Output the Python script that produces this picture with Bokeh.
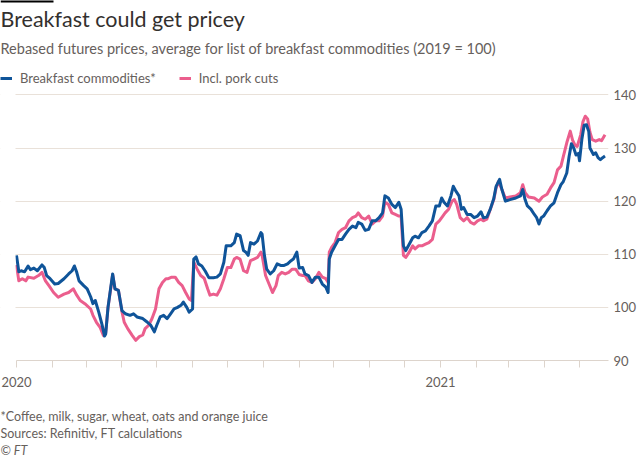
from bokeh.plotting import figure
from bokeh.models import Range1d, FixedTicker, Legend, LegendItem, Label, Title, BoxAnnotation
from bokeh.embed import file_html
from bokeh.resources import INLINE

# ---- data (days since 2020-01-01, rebased index 2019 = 100) ----
blue_days = [0, 2, 4, 7, 10, 12, 15, 18, 22, 24, 26, 29, 33, 36, 41, 45, 48, 50, 52, 54,
             58, 61, 64, 66, 68, 71, 74, 76, 77, 79, 82, 83, 85, 88, 91, 94, 98, 101, 104, 109,
             113, 116, 119, 121, 124, 127, 130, 133, 136, 139, 142, 144, 147, 149, 152, 153, 155, 157, 160, 163,
             166, 170, 173, 176, 179, 181, 185, 188, 190, 193, 196, 198, 200, 202, 205, 208, 211, 212, 214, 216,
             219, 222, 225, 228, 231, 234, 237, 239, 242, 244, 247, 249, 252, 255, 258, 261, 264, 267, 269, 270,
             272, 275, 278, 281, 284, 287, 290, 293, 295, 298, 301, 304, 307, 310, 313, 316, 318, 321, 324, 327,
             330, 332, 334, 336, 339, 342, 344, 347, 350, 353, 356, 359, 362, 365, 367, 369, 372, 375, 377, 379,
             382, 384, 386, 389, 392, 395, 398, 401, 403, 406, 409, 412, 414, 417, 419, 422, 426, 431, 435, 437,
             439, 441, 444, 447, 449, 451, 453, 455, 458, 461, 464, 467, 470, 472, 475, 477, 479, 481, 483, 485,
             486, 488, 490, 492, 494, 495, 498, 500, 502, 504, 506, 508]
blue_vals = [109.8, 106.7, 106.9, 106.7, 107.8, 107.1, 107.4, 106.9, 108.0, 107.5, 106.0, 105.4, 104.4, 104.5, 105.4, 106.3, 106.9, 107.8, 106.6, 105.0,
             104.1, 103.5, 102.0, 100.7, 101.3, 99.1, 96.6, 94.6, 95.0, 100.0, 104.8, 106.3, 103.5, 103.2, 99.4, 98.8, 98.5, 98.8, 98.2, 97.9,
             97.2, 96.6, 95.4, 96.6, 98.2, 98.5, 97.9, 98.8, 99.7, 100.0, 100.4, 101.0, 100.0, 99.1, 99.7, 109.1, 109.5, 108.2, 107.8, 106.8,
             105.6, 105.6, 105.7, 106.3, 108.5, 111.6, 111.6, 112.2, 113.8, 113.5, 110.7, 110.4, 109.8, 112.2, 111.9, 112.5, 114.1, 113.8, 109.8, 107.2,
             106.3, 106.9, 108.2, 107.9, 107.9, 108.2, 108.8, 109.1, 110.4, 107.4, 107.5, 106.3, 106.0, 104.7, 105.7, 105.7, 104.4, 103.8, 102.8, 109.1,
             110.4, 111.6, 112.8, 112.8, 113.8, 114.7, 115.3, 115.0, 116.0, 115.7, 114.5, 114.7, 116.3, 116.3, 116.9, 117.8, 121.0, 120.6, 119.4, 118.8,
             119.8, 118.5, 111.6, 110.7, 111.9, 113.1, 113.4, 113.1, 114.1, 114.4, 115.3, 116.3, 119.1, 119.1, 120.6, 119.8, 119.1, 121.0, 122.8, 122.0,
             121.0, 118.5, 118.8, 117.5, 117.5, 116.9, 117.2, 118.0, 116.9, 117.0, 118.5, 120.5, 122.8, 124.1, 122.2, 120.0, 120.3, 120.6, 121.0, 122.2,
             120.3, 119.1, 118.5, 117.5, 116.9, 115.7, 116.9, 117.2, 118.2, 119.1, 119.7, 121.6, 123.1, 123.7, 125.3, 128.4, 130.8, 130.0, 128.7, 129.0,
             127.6, 131.6, 134.3, 134.4, 133.1, 130.0, 128.8, 129.1, 128.2, 127.8, 128.2, 128.5]

pink_days = [0, 2, 5, 8, 10, 15, 19, 22, 25, 28, 32, 36, 41, 45, 49, 52, 55, 59, 64, 66,
             69, 72, 75, 77, 79, 82, 83, 85, 88, 91, 93, 96, 100, 103, 106, 109, 111, 114, 117, 120,
             123, 126, 129, 131, 134, 137, 140, 143, 146, 149, 151, 153, 156, 159, 162, 165, 167, 170, 173, 176,
             179, 182, 185, 188, 190, 193, 196, 199, 202, 205, 208, 211, 212, 215, 218, 221, 224, 226, 229, 232,
             235, 238, 241, 244, 247, 249, 252, 255, 258, 261, 264, 267, 269, 270, 272, 275, 278, 281, 284, 287,
             290, 293, 295, 298, 301, 304, 307, 310, 313, 316, 318, 321, 324, 327, 330, 332, 334, 336, 339, 342,
             344, 347, 350, 353, 356, 359, 362, 365, 368, 370, 373, 376, 378, 380, 383, 386, 389, 392, 395, 398,
             401, 403, 406, 409, 412, 414, 416, 419, 422, 426, 431, 435, 437, 439, 442, 447, 451, 454, 458, 461,
             464, 467, 470, 472, 475, 478, 480, 482, 484, 487, 489, 491, 493, 495, 497, 500, 503, 505, 508]
pink_vals = [108.0, 105.0, 105.4, 105.0, 105.7, 105.5, 106.0, 106.6, 105.0, 104.1, 102.8, 101.9, 102.5, 102.8, 103.5, 102.3, 101.3, 100.7, 99.7, 98.5,
             97.2, 96.3, 94.7, 95.2, 100.0, 104.5, 106.2, 103.5, 103.2, 99.2, 97.2, 96.0, 94.7, 93.8, 94.5, 94.8, 96.0, 96.6, 97.9, 99.7,
             103.5, 104.7, 105.4, 105.4, 105.7, 105.7, 104.7, 104.1, 102.8, 101.6, 101.3, 108.5, 107.2, 106.0, 105.5, 103.5, 102.3, 102.5, 102.3, 103.5,
             105.4, 107.5, 107.5, 109.1, 109.4, 109.1, 106.9, 106.6, 108.8, 109.1, 109.4, 110.4, 109.8, 106.0, 104.4, 102.8, 104.1, 106.0, 106.6, 106.3,
             106.6, 107.2, 107.2, 106.2, 106.0, 106.0, 105.0, 104.7, 105.4, 106.6, 105.7, 105.4, 104.7, 110.4, 111.3, 112.2, 114.1, 114.7, 115.0, 116.3,
             116.9, 117.2, 117.8, 116.9, 116.6, 117.2, 115.7, 116.3, 116.3, 117.2, 119.8, 119.4, 117.8, 117.5, 117.2, 117.2, 109.8, 109.4, 110.4, 111.6,
             111.0, 111.6, 111.6, 111.9, 112.2, 112.8, 115.7, 116.3, 117.2, 117.8, 118.5, 120.0, 120.3, 119.4, 116.9, 116.3, 116.9, 116.0, 115.7, 116.3,
             116.6, 116.3, 116.6, 118.5, 120.3, 122.5, 123.7, 122.2, 120.6, 120.8, 121.0, 121.6, 123.1, 121.6, 120.8, 120.6, 120.0, 120.8, 121.3, 122.5,
             123.5, 125.9, 126.6, 128.4, 131.0, 133.2, 131.5, 130.6, 130.3, 132.5, 135.0, 136.0, 135.5, 133.0, 131.6, 131.3, 131.6, 131.4, 132.5]

month_ticks = [0, 31, 60, 91, 121, 152, 182, 213, 244, 274, 305, 335, 366, 397, 425, 456, 486]
year_labels = {0: "2020", 366: "2021"}
y_ticks = [90, 100, 110, 120, 130, 140]

title_text = "Breakfast could get pricey"
subtitle_text = "Rebased futures prices, average for list of breakfast commodities (2019 = 100)"
series_names = ["Breakfast commodities*", "Incl. pork cuts"]
footnotes = ["*Coffee, milk, sugar, wheat, oats and orange juice",
             "Sources: Refinitiv, FT calculations"]
credit = "\u00a9 FT"

# ---- style ----
FONT = "Lato"
BLUE = "#0f5499"
PINK = "#eb5e8d"
DARK = "#33302e"
GREY = "#66605c"
GRID = "#e9e1d9"
AXIS = "#ddd4cc"

W, H = 640, 457
FRAME_BOTTOM = 362           # frame covers the header too (top = 0, left = 0)
PX_PER_DAY = 424 / 366.0     # 2020-01-01 at x=16, 2021-01-01 at x=440
PX_PER_UNIT = 267 / 50.0     # 140 at y=95, 90 at y=362
x_start = -16 / PX_PER_DAY
x_end = (608 - 16) / PX_PER_DAY
y_end = 140 + 95 / PX_PER_UNIT

p = figure(width=W, height=H, output_backend="svg", toolbar_location=None,
           x_range=Range1d(x_start, x_end), y_range=Range1d(90, y_end),
           y_axis_location="right",
           min_border_left=0, min_border_right=32, min_border_top=0,
           min_border_bottom=H - FRAME_BOTTOM)
p.outline_line_color = None
p.background_fill_color = "white"
p.border_fill_color = "white"

pink_r = p.line(pink_days, pink_vals, line_color=PINK, line_width=3, line_join="round")
blue_r = p.line(blue_days, blue_vals, line_color=BLUE, line_width=3, line_join="round")

# grid
p.xgrid.visible = False
p.ygrid.grid_line_color = GRID
p.ygrid.grid_line_width = 1

# y axis (right)
p.yaxis.ticker = FixedTicker(ticks=y_ticks)
p.yaxis.axis_line_color = None
p.yaxis.major_tick_line_color = None
p.yaxis.minor_tick_line_color = None
p.yaxis.major_tick_in = 0
p.yaxis.major_tick_out = 0
p.yaxis.major_label_standoff = 5
p.yaxis.major_label_text_font = FONT
p.yaxis.major_label_text_font_size = "13px"
p.yaxis.major_label_text_color = GREY

# x axis (below)
p.xaxis.ticker = FixedTicker(ticks=month_ticks)
p.xaxis.bounds = (0, x_end)
overrides = {t: "" for t in month_ticks}
overrides.update(year_labels)
p.xaxis.major_label_overrides = overrides
p.xaxis.axis_line_color = AXIS
p.xaxis.major_tick_line_color = AXIS
p.xaxis.minor_tick_line_color = None
p.xaxis.major_tick_in = 0
p.xaxis.major_tick_out = 7
p.xaxis.major_label_standoff = 9
p.xaxis.major_label_text_font = FONT
p.xaxis.major_label_text_font_size = "13px"
p.xaxis.major_label_text_color = GREY

# white strip hiding the gridlines left of the first date
p.add_layout(BoxAnnotation(left=0, right=15, bottom=0, top=FRAME_BOTTOM - 90,
                           left_units="screen", right_units="screen",
                           bottom_units="screen", top_units="screen",
                           fill_color="white", fill_alpha=1, line_color=None))
# black FT bar at the top-left
p.add_layout(BoxAnnotation(left=0, right=53, bottom=FRAME_BOTTOM - 4, top=FRAME_BOTTOM,
                           left_units="screen", right_units="screen",
                           bottom_units="screen", top_units="screen",
                           fill_color="black", fill_alpha=1, line_color=None))


def add_label(text, page_x, page_y, size, color, style="normal"):
    p.add_layout(Label(x=page_x, y=FRAME_BOTTOM - page_y,
                       x_units="screen", y_units="screen",
                       text=text, text_font=FONT, text_font_size=size,
                       text_color=color, text_font_style=style,
                       text_align="left", text_baseline="middle"))


add_label(title_text, 0, 20, "21.5px", DARK)
add_label(subtitle_text, 0, 50, "14.5px", GREY)

legend = Legend(items=[LegendItem(label=series_names[0], renderers=[blue_r]),
                       LegendItem(label=series_names[1], renderers=[pink_r])],
                orientation="horizontal", location=(0, FRAME_BOTTOM - 88),
                glyph_width=12, glyph_height=12, label_height=12, label_standoff=8,
                spacing=23, padding=0, margin=0, border_line_color=None,
                background_fill_alpha=0, label_text_font=FONT,
                label_text_font_size="13px", label_text_color=GREY)
p.add_layout(legend)

# footnotes below the x axis (an invisible spacer title first)
p.add_layout(Title(text="\u00a0", align="left", standoff=14, text_font=FONT,
                   text_font_size="1px"), "below")
for txt, so, style in [(footnotes[0], 0, "normal"), (footnotes[1], 0, "normal"), (credit, 0, "italic")]:
    p.add_layout(Title(text=txt, align="left", standoff=so,
                       text_font=FONT, text_font_size="12.5px", text_font_style=style,
                       text_color=GREY), "below")

open("out.html", "w").write(file_html(p, INLINE))
